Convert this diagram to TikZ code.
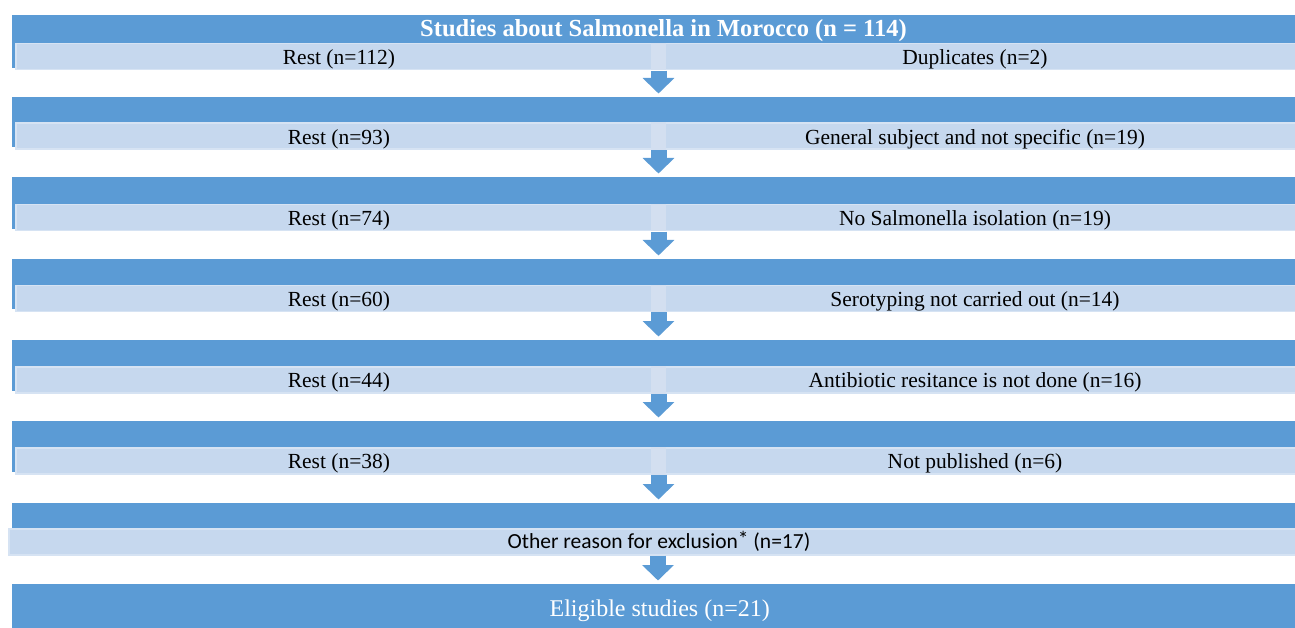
\documentclass[tikz,border=0pt]{standalone}
\usepackage{fontspec}
\setmainfont{Liberation Serif}
\newfontfamily\calibrifont{Carlito}
\usetikzlibrary{arrows.meta}

\definecolor{bardark}{HTML}{5B9BD5}
\definecolor{barlight}{HTML}{C6D8EE}
\definecolor{barpale}{HTML}{D6E3F3}
\definecolor{barlink}{HTML}{D3DFF0}

\begin{document}
\begin{tikzpicture}[x=1pt, y=-1pt,
  stagebar/.style={rectangle, fill=bardark, inner sep=0pt, anchor=north west, minimum width=1295pt},
  lightbar/.style={rectangle, fill=barlight, draw=barpale, line width=1.5pt, inner sep=0pt, minimum height=26pt, font=\fontsize{21.5}{24}\selectfont},
  restlabel/.style={text height=16pt, text depth=0pt},
  linkbar/.style={rectangle, fill=barlink, inner sep=0pt, minimum width=15pt, minimum height=27.5pt},
  flowarrow/.style={draw=bardark, line width=16pt, -{Triangle[width=31pt, length=15.5pt]}, shorten >=3.5pt}]

  % Bounding box of the scheme
  \useasboundingbox (0,0) rectangle (1295,628);

  %%%%%%%%%%%%%%%%%%%%%%%%%%%%%%%%% Dark bars of the stages %%%%%%%%%%%%%%%%%%%%%%%%%%%%%%%%%
  \foreach \i/\yd/\yl in {0/15/43, 1/97/122.5, 2/177/204, 3/259/284.5, 4/340/366, 5/421/447, 6/503/528} {
    \pgfmathsetmacro\hd{\yl-\yd+24.5}
    \node[stagebar, minimum height=\hd pt] (st\i) at (12,\yd) {};
  }
  \node[stagebar, minimum height=44pt, text=white, text height=20pt, text depth=0pt, font=\fontsize{24}{28}\selectfont] (st7) at (12,584) {Eligible studies (n=21)};

  % Title
  \node[text=white, inner sep=0pt, text height=17pt, text depth=2.4pt, font=\bfseries\fontsize{24.5}{28}\selectfont] (title) at (663.5,29) {Studies about Salmonella in Morocco (n = 114)};

  %%%%%%%%%%%%%%%%%%%%%%%%%%%%%%%%% Light bars : rest and exclusions %%%%%%%%%%%%%%%%%%%%%%%%%%
  \foreach \i/\yl/\ltext/\rtext in {0/43/{Rest (n=112)}/{Duplicates (n=2)},
      1/122.5/{Rest (n=93)}/{General subject and not specific (n=19)},
      2/204/{Rest (n=74)}/{No Salmonella isolation (n=19)},
      3/284.5/{Rest (n=60)}/{Serotyping not carried out (n=14)},
      4/366/{Rest (n=44)}/{Antibiotic resitance is not done (n=16)},
      5/447/{Rest (n=38)}/{Not published (n=6)}} {
    \node[lightbar, restlabel, minimum width=658.5pt] (excl\i) at (975,{\yl+13.75}) {\rtext};
    \node[lightbar, restlabel, minimum width=646.5pt] (rest\i) at (339,{\yl+13.75}) {\ltext};
    \node[linkbar] (link\i) at (658.5,{\yl+13.75}) {};
  }

  % Last stage
  \node[lightbar, minimum width=1300pt, font=\calibrifont\fontsize{21.5}{24}\selectfont] (other) at (659,541.75) {Other reason for exclusion\raisebox{2pt}{*} (n=17)};
  \coordinate (link6) at (658,555.5);

  %%%%%%%%%%%%%%%%%%%%%%%%%%%%%%%%% Arrows between stages %%%%%%%%%%%%%%%%%%%%%%%%%%%%%%%%%%%
  \foreach \i [evaluate=\i as \j using int(\i+1)] in {0,...,5} {
    \draw[flowarrow] (link\i.south) -- (link\i.south |- st\j.north);
  }
  \draw[flowarrow] (link6) -- (link6 |- st7.north);

\end{tikzpicture}
\end{document}
